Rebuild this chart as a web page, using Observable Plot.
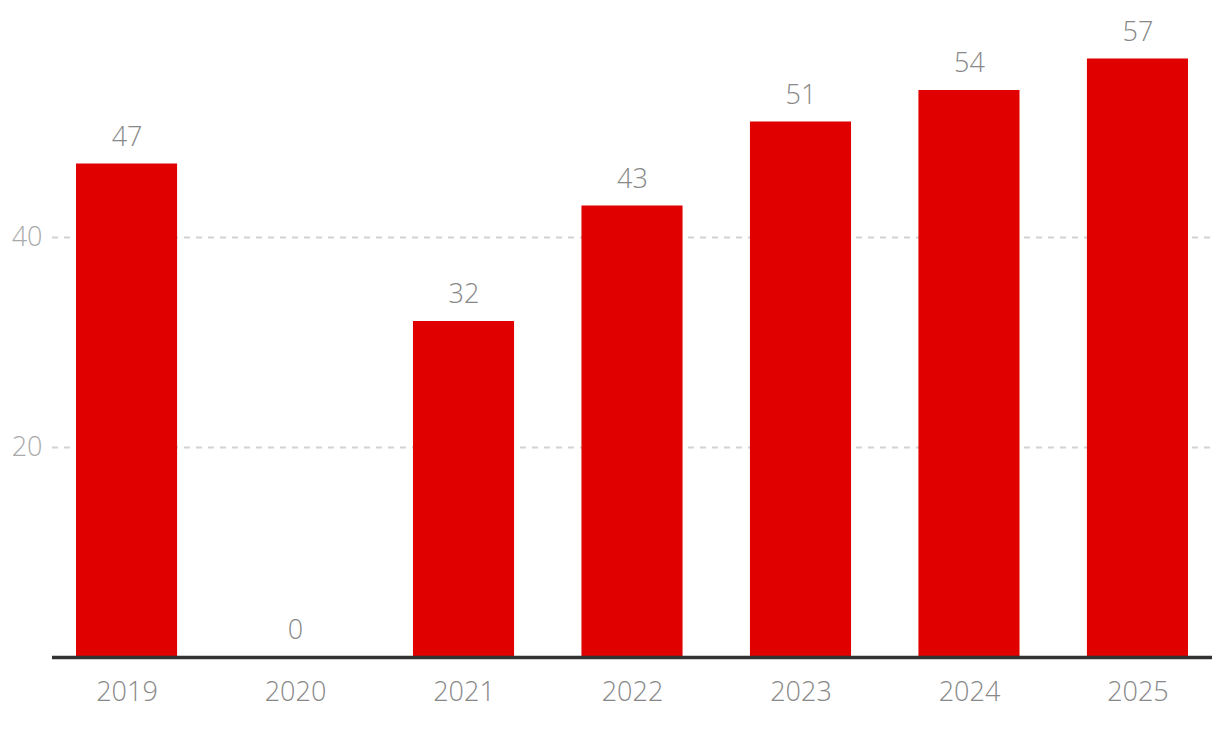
<!DOCTYPE html>
<html>
<head>
<meta charset="utf-8">
<script src="https://cdn.jsdelivr.net/npm/d3@7"></script>
<script src="https://cdn.jsdelivr.net/npm/@observablehq/plot@0.6"></script>
<style>
  html, body { margin: 0; padding: 0; background: #fff; }
  #chart svg { display: block; }
</style>
</head>
<body>
<div id="chart"></div>
<script>
const years = ["2019", "2020", "2021", "2022", "2023", "2024", "2025"];
const values = [47, 0, 32, 43, 51, 54, 57];
const yTicks = [20, 40];

const data = years.map((year, i) => ({year, value: values[i]}));

const font = "'Open Sans', sans-serif";

const chart = Plot.plot({
  width: 1220,
  height: 732,
  marginLeft: 52,
  marginRight: 8,
  marginTop: 27,
  marginBottom: 75,
  style: {fontFamily: font, fontWeight: 300, background: "#fff"},
  x: {domain: years, paddingInner: 0.4, paddingOuter: 0.1424, round: false, label: null},
  y: {domain: [0, 60], label: null},
  marks: [
    Plot.ruleY(yTicks, {stroke: "#d2d2d2", strokeWidth: 2, strokeDasharray: "6,6"}),
    Plot.barY(data, {x: "year", y: "value", fill: "#e00000"}),
    Plot.ruleY([0], {stroke: "#333", strokeWidth: 3.5}),
    Plot.text(data, {x: "year", y: "value", text: d => String(d.value), dy: -27, fill: "#888", fontSize: 27, fontWeight: 300}),
    Plot.axisX({tickSize: 0, tickPadding: 24, fontSize: 27, fill: "#888", fontWeight: 300, label: null}),
    Plot.axisY(yTicks, {tickSize: 0, tickPadding: 10, fontSize: 27, fill: "#aaa", fontWeight: 300, label: null})
  ]
});
document.getElementById("chart").appendChild(chart);
</script>
</body>
</html>
